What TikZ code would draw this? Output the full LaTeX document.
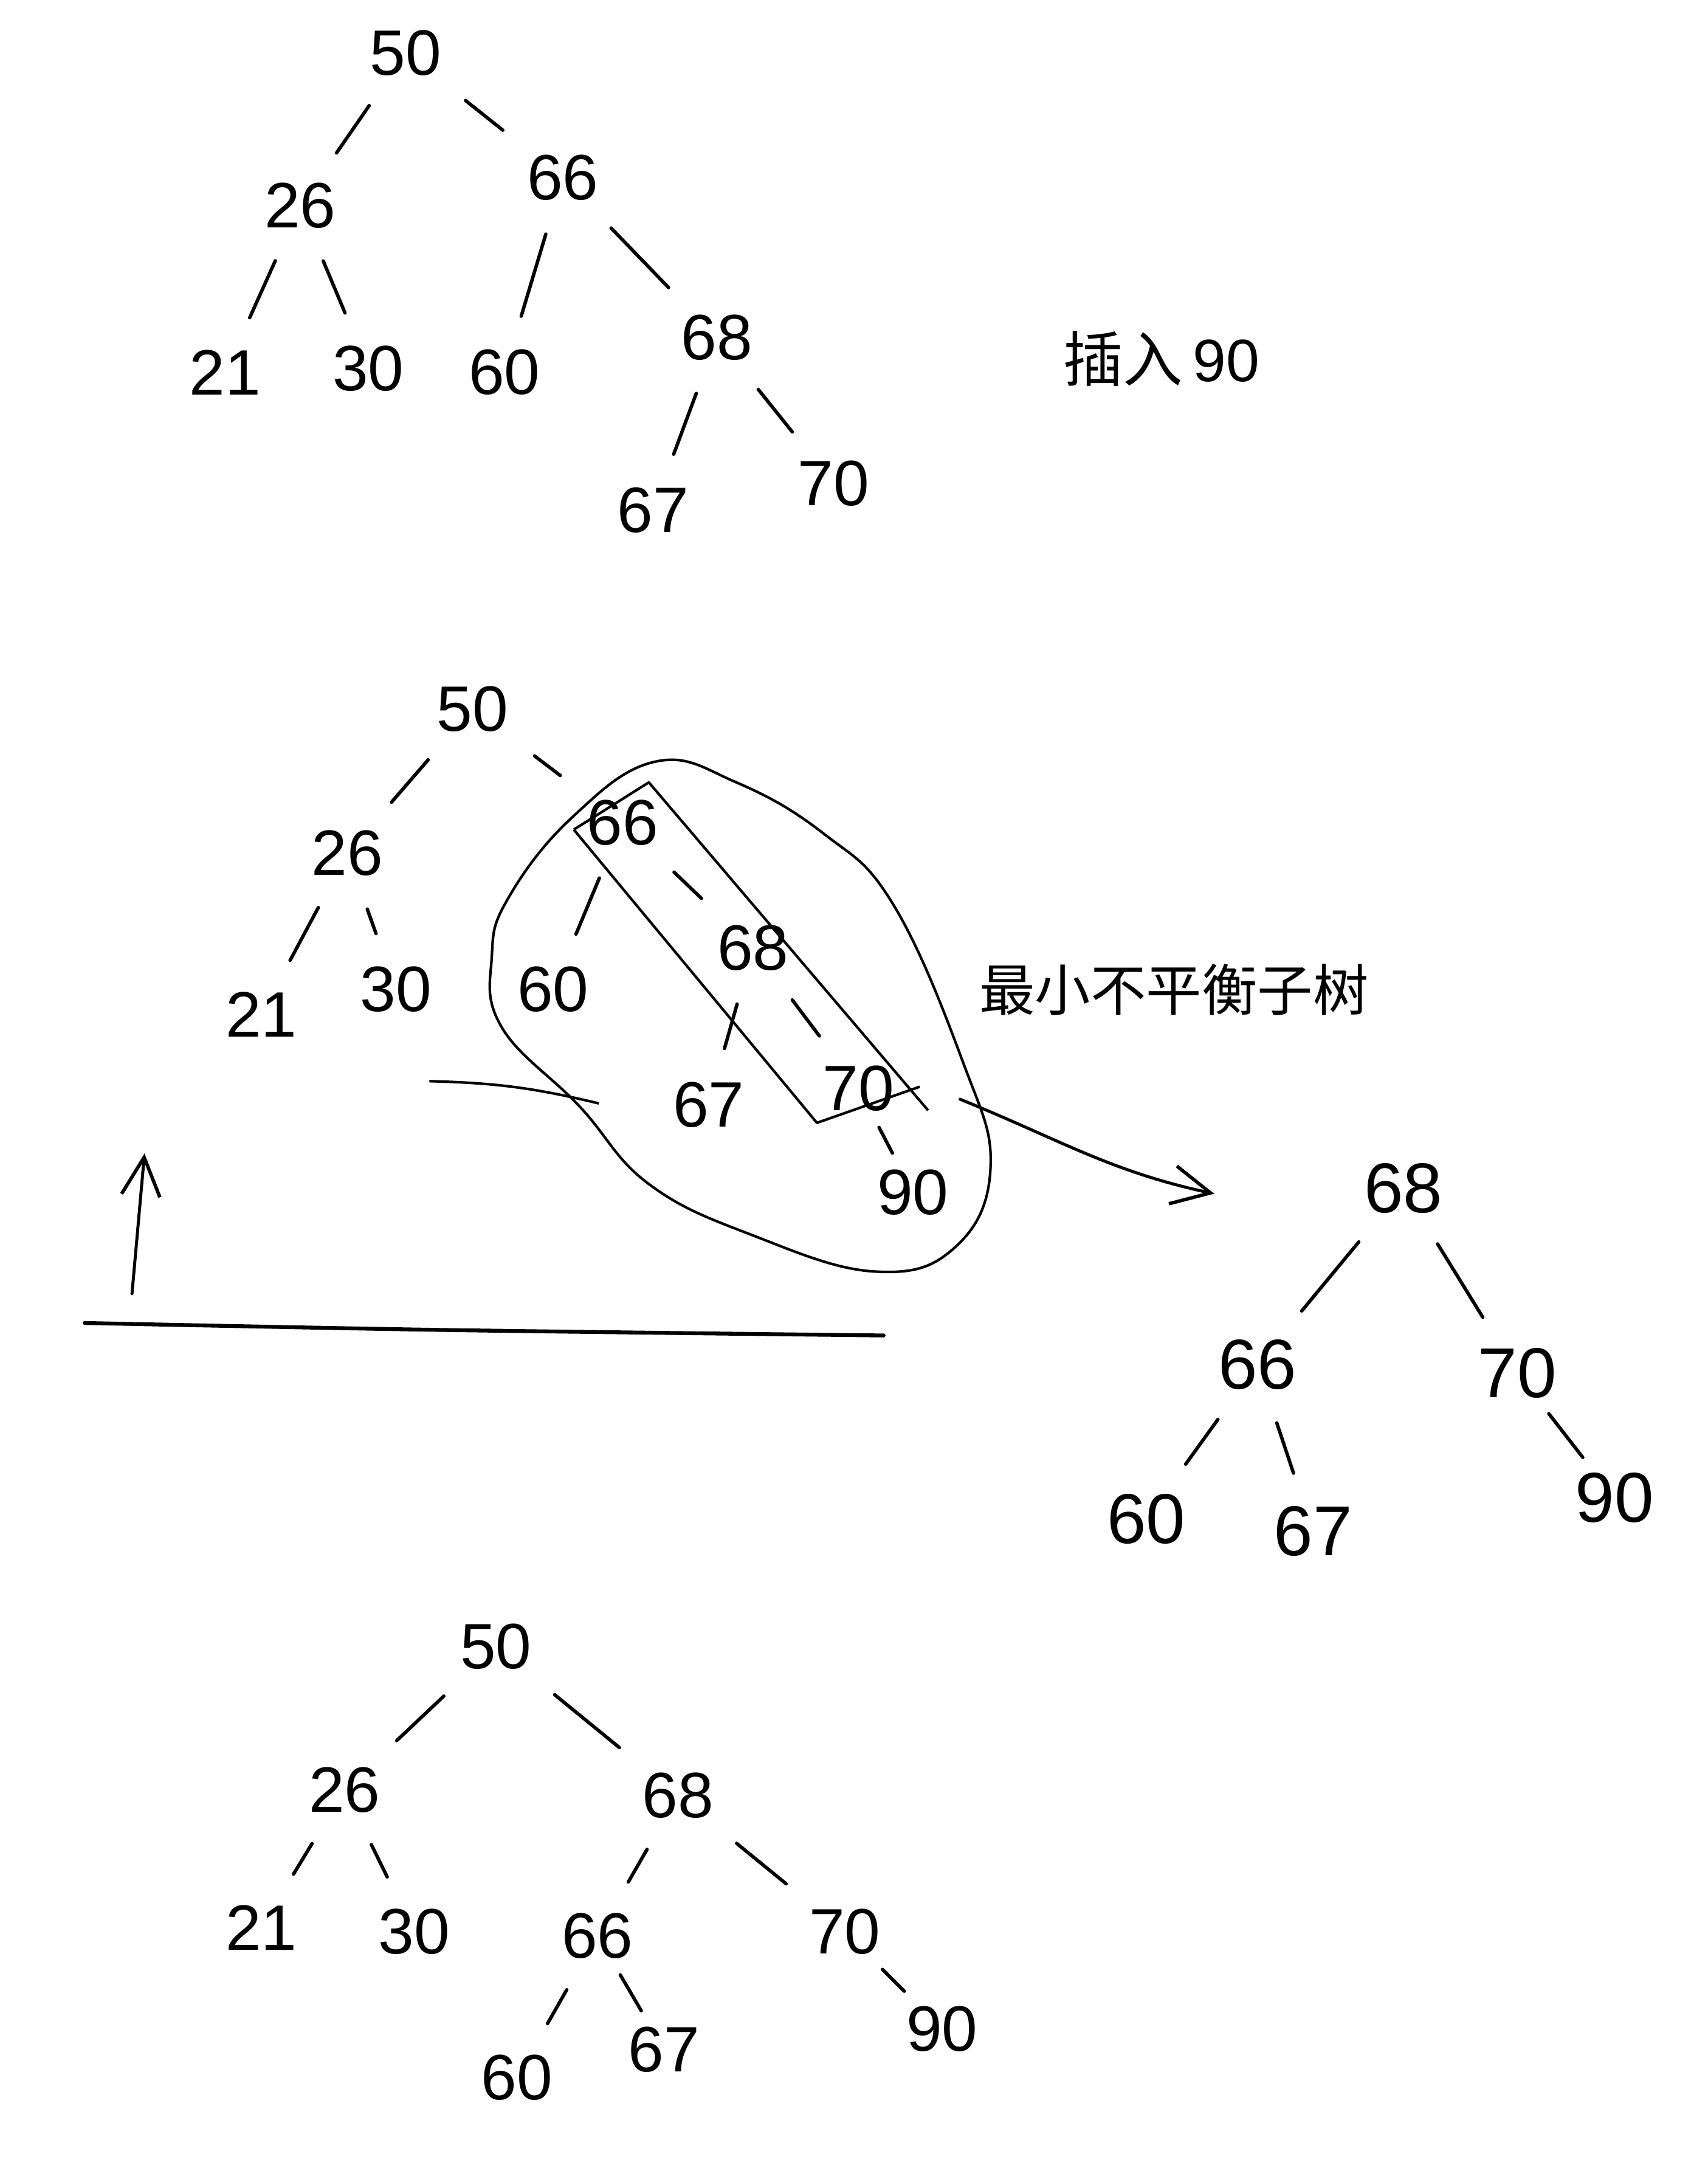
\documentclass[tikz,border=0pt]{standalone}
\usepackage{fontspec}
\setmainfont{Liberation Sans}
\newfontfamily\cjk{Noto Sans CJK SC}
\usetikzlibrary{arrows.meta}
\tikzset{
  num/.style={inner sep=4pt,font=\fontsize{30}{36}\selectfont},
  bignum/.style={num,font=\fontsize{33}{39}\selectfont},
  branch/.style={line width=1.6pt,line cap=round,shorten >=12pt,shorten <=12pt},
  shortbranch/.style={branch,shorten >=4pt,shorten <=4pt},
  note/.style={font=\cjk\fontsize{28}{34}\selectfont},
  outline/.style={line width=1.2pt,line join=round},
  arrow/.style={line width=1.4pt,line cap=round,-{Straight Barb[length=18pt,width=18pt,line width=1.6pt]}},
}

\begin{document}
\begin{tikzpicture}[x=0.02285cm,y=-0.02285cm]
  \useasboundingbox[fill=white] (0,0) rectangle (1229,1568);

  % Tree 1: before the insertion
  \node[num] (a50) at (292,38) {50};
  \node[num] (a26) at (216,148) {26};
  \node[num] (a66) at (405,128) {66};
  \node[num] (a21) at (162,268) {21};
  \node[num] (a30) at (265,265) {30};
  \node[num] (a60) at (363,268) {60};
  \node[num] (a68) at (516,243) {68};
  \node[num] (a67) at (470,367) {67};
  \node[num] (a70) at (600,348) {70};
  \node[note] (insert) at (836,258) {插入\,\rmfamily 90};

  \draw[branch] (a50) -- (a26);
  \draw[branch] (a50) -- (a66);
  \draw[branch] (a26) -- (a21);
  \draw[branch] (a26) -- (a30);
  \draw[branch] (a66) -- (a60);
  \draw[branch] (a66) -- (a68);
  \draw[branch] (a68) -- (a67);
  \draw[branch] (a68) -- (a70);

  % Tree 2: 90 inserted, unbalanced
  \node[num] (b50) at (340,510) {50};
  \node[num] (b26) at (250,614) {26};
  \node[num] (b21) at (188,730) {21};
  \node[num] (b30) at (285,712) {30};
  \node[num] (b66) at (448,592) {66};
  \node[num] (b60) at (398,712) {60};
  \node[num] (b68) at (542,682) {68};
  \node[num] (b67) at (510,795) {67};
  \node[num] (b70) at (618,783) {70};
  \node[num] (b90) at (657,858) {90};
  \node[note,font=\cjk\fontsize{26}{32}\selectfont] (unbal) at (845,712) {最小不平衡子树};

  \draw[branch] (b50) -- (b26);
  \draw[branch] (b50) -- (b66);
  \draw[branch] (b26) -- (b21);
  \draw[branch] (b26) -- (b30);
  \draw[branch] (b66) -- (b60);
  \draw[branch] (b66) -- (b68);
  \draw[branch] (b68) -- (b67);
  \draw[branch] (b68) -- (b70);
  \draw[shortbranch] (b70) -- (b90);

  % box round 66-68-70 and loop round the subtree
  \draw[outline] (413,597) -- (467,563) -- (668,799);
  \draw[outline] (413,597) -- (588,808) -- (662,782);
  \draw[outline] plot[smooth cycle,tension=0.7] coordinates {
    (472,548) (530,563) (593,600) (643,651) (693,764) (713,839)
    (688,897) (630,915) (542,889) (467,852) (417,796) (361,739)
    (354,688) (366,646) (412,588)};
  \draw[outline] (309,778) to[bend left=6] (431,794);

  % up arrow and rule
  \draw[arrow] (95,931) -- (104,830);
  \draw[line width=1.8pt,line cap=round] plot[smooth] coordinates {(61,952) (317,957) (636,961)};

  % Tree 3: rotated subtree
  \coordinate (from) at (691,791);
  \node[bignum] (c68) at (1010,855) {68};
  \node[bignum] (c66) at (905,982) {66};
  \node[bignum] (c70) at (1092,988) {70};
  \node[bignum] (c60) at (825,1093) {60};
  \node[bignum] (c67) at (945,1102) {67};
  \node[bignum] (c90) at (1162,1078) {90};
  \coordinate (to) at (874,859);

  \draw[arrow] (from) to[out=-22,in=168] (to);
  \draw[branch] (c68) -- (c66);
  \draw[branch] (c68) -- (c70);
  \draw[branch] (c66) -- (c60);
  \draw[branch] (c66) -- (c67);
  \draw[shortbranch] (c70) -- (c90);

  % Tree 4: after the rotation
  \node[num] (d50) at (357,1185) {50};
  \node[num] (d26) at (248,1288) {26};
  \node[num] (d68) at (488,1292) {68};
  \node[num] (d21) at (188,1387) {21};
  \node[num] (d30) at (298,1390) {30};
  \node[num] (d66) at (430,1393) {66};
  \node[num] (d70) at (608,1390) {70};
  \node[num] (d60) at (372,1495) {60};
  \node[num] (d67) at (478,1475) {67};
  \node[num] (d90) at (678,1460) {90};

  \draw[branch] (d50) -- (d26);
  \draw[branch] (d50) -- (d68);
  \draw[branch] (d26) -- (d21);
  \draw[branch] (d26) -- (d30);
  \draw[branch] (d68) -- (d66);
  \draw[branch] (d68) -- (d70);
  \draw[branch] (d66) -- (d60);
  \draw[shortbranch] (d66) -- (d67);
  \draw[shortbranch] (d70) -- (d90);
\end{tikzpicture}
\end{document}
